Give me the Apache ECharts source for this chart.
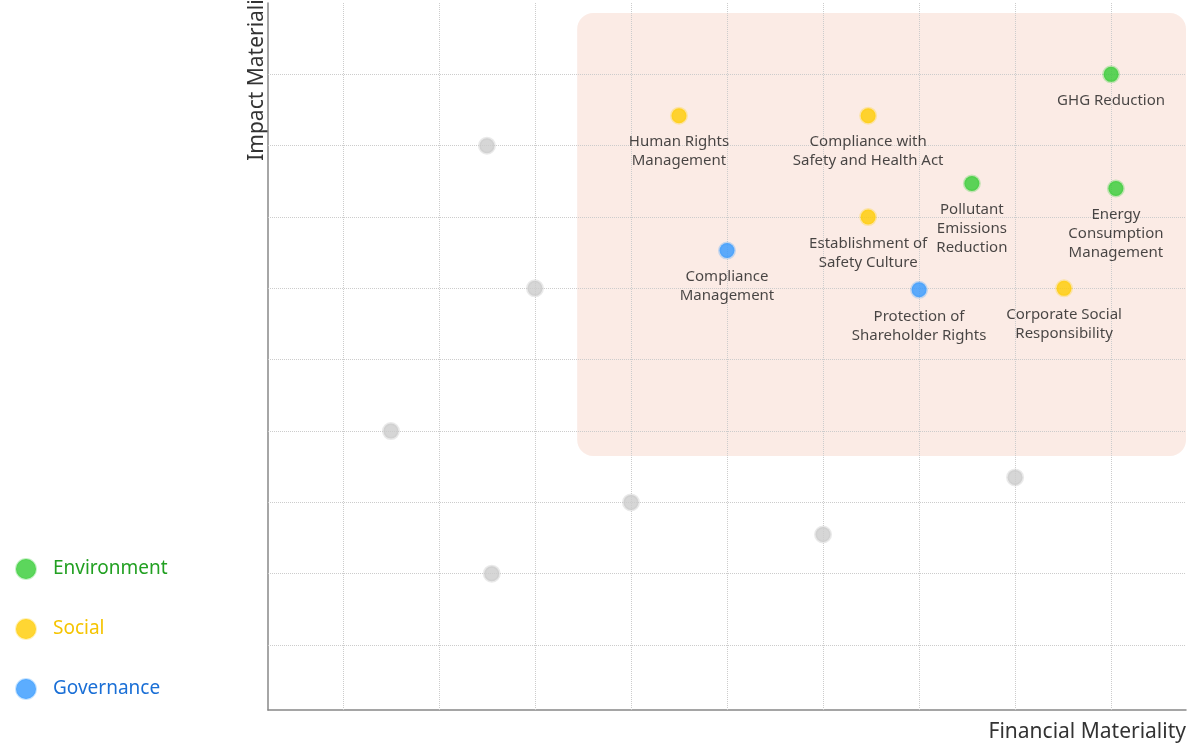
<!DOCTYPE html>
<html><head><meta charset="utf-8">
<script src="https://cdn.jsdelivr.net/npm/echarts@6/dist/echarts.min.js"></script>
<style>html,body{margin:0;padding:0;background:#fff}#c{width:1188px;height:750px}</style>
</head><body><div id="c"></div>
<script>
const otherPoints = [[2.5,8],[3,6],[1.5,4],[4,3],[2.55,2],[6,2.55],[8,3.35]];
const environmentPoints = [[9.0,9.0,'GHG Reduction'],[7.55,7.47,'Pollutant\nEmissions\nReduction'],[9.05,7.4,'Energy\nConsumption\nManagement']];
const socialPoints = [[4.5,8.42,'Human Rights\nManagement'],[6.47,8.42,'Compliance with\nSafety and Health Act'],[6.47,7.0,'Establishment of\nSafety Culture'],[8.51,6.0,'Corporate Social\nResponsibility']];
const governancePoints = [[5.0,6.53,'Compliance\nManagement'],[7.0,5.98,'Protection of\nShareholder Rights']];
const gridX = [1,2,3,4,5,6,7,8,9];
const gridY = [1,2,3,4,5,6,7,8,9];
const focusArea = [[3.44,9.86],[9.78,3.65]];

const chart = echarts.init(document.getElementById('c'));
const font = '"Noto Sans", sans-serif';
function mk(name, data, color){
  return {name, type:'scatter', data, symbolSize:15,
    itemStyle:{color, borderColor:echarts.color.modifyAlpha(color,0.35), borderWidth:3},
    label:{show:true, position:'bottom', distance:8, formatter:p=>p.data[2], color:'#1a1a1a', fontSize:15, lineHeight:19, fontFamily:font},
    z:5};
}
chart.setOption({
  animation:false,
  grid:{left:268,right:2,top:3,bottom:40,containLabel:false,outerBoundsMode:'none'},
  xAxis:{type:'value',min:0.22,max:9.78,axisLabel:{show:false},axisTick:{show:false},splitLine:{show:false},
    axisLine:{show:true,lineStyle:{color:'#888',width:1.5}},
    name:'Financial Materiality',nameLocation:'end',nameGap:0,
    nameTextStyle:{fontSize:21,color:'#333',fontFamily:font,align:'right',verticalAlign:'top',padding:[12,0,0,0]}},
  yAxis:{type:'value',min:0.09,max:10,axisLabel:{show:false},axisTick:{show:false},splitLine:{show:false},
    axisLine:{show:true,lineStyle:{color:'#888',width:1.5}},
    name:'Impact Materiality',nameLocation:'end',nameGap:22,nameRotate:90,
    nameTextStyle:{fontSize:21,color:'#333',fontFamily:font,align:'right',verticalAlign:'bottom'}},
  legend:{orient:'vertical',left:10,top:553,itemGap:38,icon:'circle',itemWidth:20,itemHeight:20,
    data:[{name:'Environment',textStyle:{color:'#22a022'}},{name:'Social',textStyle:{color:'#f5c400'}},{name:'Governance',textStyle:{color:'#1a6fd6'}}],
    textStyle:{fontSize:19,fontFamily:font,padding:[0,0,0,12]}},
  series:[
    {name:'grid',type:'scatter',data:[],silent:true,
      markLine:{silent:true,symbol:'none',label:{show:false},lineStyle:{color:'#ccc',type:'dotted',width:1},
        data:gridX.map(v=>({xAxis:v})).concat(gridY.map(v=>({yAxis:v})))}},
    {name:'other',type:'scatter',data:otherPoints,symbolSize:15,
      itemStyle:{color:'#cccccc',borderColor:'rgba(200,200,200,0.5)',borderWidth:3},z:5},
    mk('Environment',environmentPoints,'#33cc33'),
    mk('Social',socialPoints,'#ffcc00'),
    mk('Governance',governancePoints,'#3399ff')
  ]
});
const p1 = chart.convertToPixel({gridIndex:0},focusArea[0]);
const p2 = chart.convertToPixel({gridIndex:0},focusArea[1]);
chart.setOption({graphic:[{type:'rect',z:-1,silent:true,
  shape:{x:p1[0],y:p1[1],width:p2[0]-p1[0],height:p2[1]-p1[1],r:16},
  style:{fill:'rgba(245,205,190,0.4)'}}]});
</script></body></html>
